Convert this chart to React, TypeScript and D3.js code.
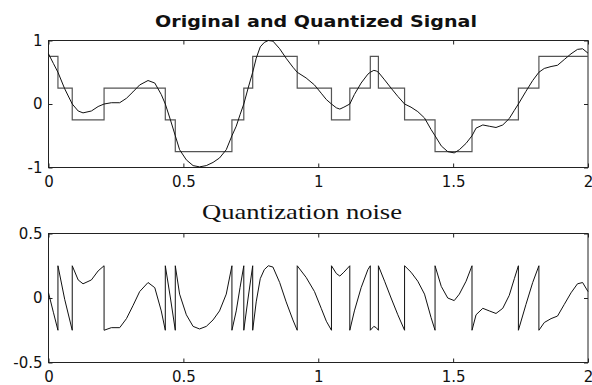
import React, { useEffect, useRef } from "react";
import * as d3 from "d3";

// original signal (time, value)
const signalT = [
  0.0, 0.018, 0.035, 0.06, 0.088, 0.11, 0.128, 0.159, 0.184, 0.206, 0.233, 0.264, 0.289, 0.313, 0.338,
  0.369, 0.394, 0.418, 0.433, 0.452, 0.47, 0.486, 0.511, 0.536, 0.56, 0.585, 0.61, 0.634, 0.659, 0.68,
  0.696, 0.71, 0.724, 0.74, 0.757, 0.77, 0.785, 0.8, 0.815, 0.832, 0.857, 0.881, 0.906, 0.922, 0.955,
  0.986, 1.011, 1.03, 1.049, 1.067, 1.08, 1.095, 1.117, 1.134, 1.159, 1.184, 1.193, 1.206, 1.215, 1.223,
  1.246, 1.27, 1.295, 1.32, 1.344, 1.369, 1.394, 1.418, 1.433, 1.456, 1.48, 1.504, 1.523, 1.548, 1.57,
  1.585, 1.61, 1.634, 1.659, 1.684, 1.708, 1.727, 1.742, 1.77, 1.795, 1.818, 1.838, 1.863, 1.887, 1.912,
  1.937, 1.961, 1.98, 2.0,
];
const signalV = [
  0.79, 0.64, 0.5, 0.24, 0.0, -0.11, -0.14, -0.11, -0.04, 0.0, 0.02, 0.02, 0.09, 0.19, 0.3,
  0.37, 0.33, 0.15, 0.0, -0.25, -0.5, -0.72, -0.88, -0.97, -0.99, -0.97, -0.92, -0.85, -0.72, -0.5,
  -0.35, -0.17, 0.0, 0.25, 0.5, 0.72, 0.9, 0.97, 1.0, 0.99, 0.87, 0.72, 0.58, 0.5, 0.41,
  0.3, 0.17, 0.07, 0.0, -0.06, -0.08, -0.05, 0.0, 0.15, 0.33, 0.47, 0.5, 0.53, 0.52, 0.5,
  0.38, 0.25, 0.12, 0.0, -0.05, -0.12, -0.22, -0.4, -0.5, -0.66, -0.75, -0.77, -0.72, -0.62, -0.5,
  -0.38, -0.33, -0.35, -0.37, -0.33, -0.23, -0.1, 0.0, 0.2, 0.37, 0.5, 0.56, 0.59, 0.61, 0.7,
  0.79, 0.86, 0.87, 0.8,
];

// quantizer output: time at which each level starts
const stepT = [
  0, 0.035, 0.088, 0.206, 0.433, 0.47, 0.68, 0.724, 0.757, 0.922, 1.049, 1.117, 1.193, 1.223, 1.32,
  1.433, 1.57, 1.742, 1.818,
];
const stepLevel = [
  0.75, 0.25, -0.25, 0.25, -0.25, -0.75, -0.25, 0.25, 0.75, 0.25, -0.25, 0.25, 0.75, 0.25, -0.25,
  -0.75, -0.25, 0.25, 0.75,
];

const xTicks = [0, 0.5, 1, 1.5, 2];
const signalTicks = [-1, 0, 1];
const noiseTicks = [-0.5, 0, 0.5];

export default function App() {
  const ref = useRef<SVGSVGElement>(null);

  useEffect(() => {
    const svg = d3.select(ref.current);
    svg.selectAll("*").remove();

    const left = 48.5, right = 588;
    const x = d3.scaleLinear().domain([0, 2]).range([left, right]);
    const yTop = d3.scaleLinear().domain([-1, 1]).range([167.5, 40.5]);
    const yBot = d3.scaleLinear().domain([-0.5, 0.5]).range([362.5, 233.5]);

    const frame = (y: any, ticks: number[]) => {
      const g = svg.append("g");
      const [b, t] = y.range();
      g.append("rect").attr("x", left).attr("y", t).attr("width", right - left).attr("height", b - t)
        .attr("fill", "#fff").attr("stroke", "#222").attr("stroke-width", 1);
      g.append("g").attr("transform", `translate(0,${b})`)
        .call(d3.axisBottom(x).tickValues(xTicks).tickSize(-4).tickSizeOuter(0).tickPadding(9).tickFormat((d: any) => String(d)));
      g.append("g").attr("transform", `translate(0,${t})`)
        .call(d3.axisTop(x).tickValues(xTicks).tickSize(-4).tickSizeOuter(0).tickFormat(() => ""));
      g.append("g").attr("transform", `translate(${left},0)`)
        .call(d3.axisLeft(y).tickValues(ticks).tickSize(-4).tickSizeOuter(0).tickPadding(6).tickFormat((d: any) => String(d)));
      g.append("g").attr("transform", `translate(${right},0)`)
        .call(d3.axisRight(y).tickValues(ticks).tickSize(-4).tickSizeOuter(0).tickFormat(() => ""));
      g.selectAll(".domain").remove();
      g.selectAll(".tick line").attr("stroke", "#222");
      g.selectAll("text").attr("font-family", "DejaVu Sans").attr("font-size", 15).attr("fill", "#111");
      return g;
    };

    frame(yTop, signalTicks);
    frame(yBot, noiseTicks);

    // quantized steps
    const qPts: [number, number][] = stepT.map((t, i) => [t, stepLevel[i]]);
    qPts.push([2, stepLevel[stepLevel.length - 1]]);
    svg.append("path").datum(qPts)
      .attr("d", d3.line<[number, number]>().x(d => x(d[0])).y(d => yTop(d[1])).curve(d3.curveStepAfter))
      .attr("fill", "none").attr("stroke", "#555").attr("stroke-width", 1.2);

    // original signal
    const sPts: [number, number][] = signalT.map((t, i) => [t, signalV[i]]);
    svg.append("path").datum(sPts)
      .attr("d", d3.line<[number, number]>().x(d => x(d[0])).y(d => yTop(d[1])))
      .attr("fill", "none").attr("stroke", "#111").attr("stroke-width", 1);

    // noise = signal - quantized, with both sides at each switch
    const levelIdx = (t: number) => {
      let k = 0;
      stepT.forEach((s, i) => { if (s <= t + 1e-9) k = i; });
      return k;
    };
    const nPts: [number, number][] = [];
    signalT.forEach((t, i) => {
      const k = levelIdx(t);
      if (k > 0 && Math.abs(stepT[k] - t) < 1e-9) nPts.push([t, signalV[i] - stepLevel[k - 1]]);
      nPts.push([t, signalV[i] - stepLevel[k]]);
    });
    svg.append("path").datum(nPts)
      .attr("d", d3.line<[number, number]>().x(d => x(d[0])).y(d => yBot(d[1])))
      .attr("fill", "none").attr("stroke", "#111").attr("stroke-width", 1);

    // titles
    svg.append("text").text("Original and Quantized Signal")
      .attr("x", 155).attr("y", 27).attr("textLength", 322).attr("lengthAdjust", "spacingAndGlyphs")
      .attr("font-family", "DejaVu Sans").attr("font-weight", "bold").attr("font-size", 16).attr("fill", "#111");
    svg.append("text").text("Quantization noise")
      .attr("x", 202).attr("y", 219).attr("textLength", 200).attr("lengthAdjust", "spacingAndGlyphs")
      .attr("font-family", "Liberation Serif").attr("font-size", 22).attr("fill", "#111");
  }, []);

  return (
    <svg ref={ref} width={592} height={385}
      style={{ position: "absolute", left: 0, top: 0, background: "#fff" }} />
  );
}
